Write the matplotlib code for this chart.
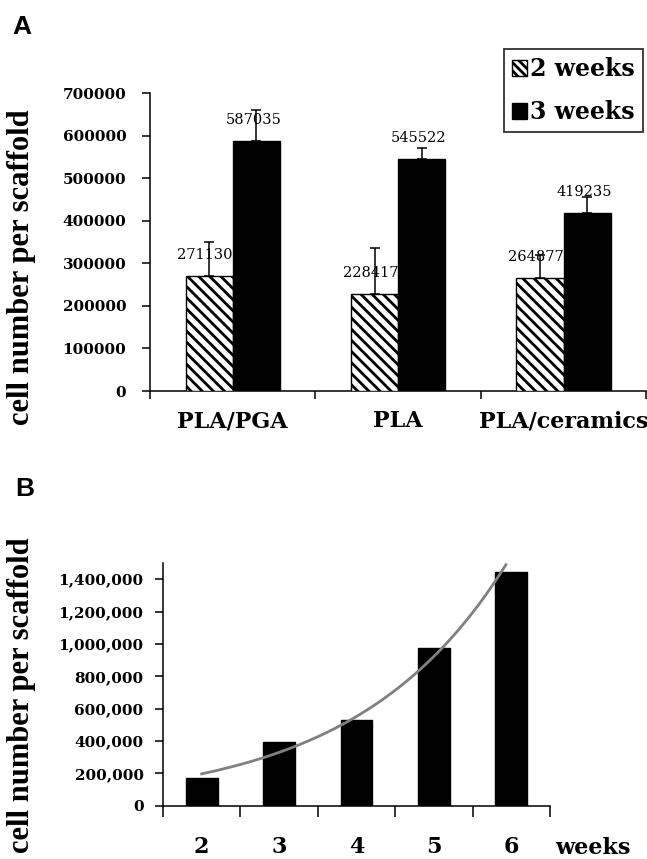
import numpy as np
import matplotlib.pyplot as plt
from matplotlib.patches import Patch

# Panel A data
materials = ["PLA/PGA", "PLA", "PLA/ceramics"]
week2_vals = [271130, 228417, 264877]
week3_vals = [587035, 545522, 419235]
week2_err = [79000, 107000, 55000]
week3_err = [73000, 26500, 37000]
a_yticks = [0, 100000, 200000, 300000, 400000, 500000, 600000, 700000]

# Panel B data
weeks = ["2", "3", "4", "5", "6"]
cells = [173000, 396000, 530000, 973000, 1447000]
b_yticks = [0, 200000, 400000, 600000, 800000, 1000000, 1200000, 1400000]

SERIF_B = dict(family="DejaVu Serif", weight="bold")
plt.rcParams["hatch.linewidth"] = 2.0

fig = plt.figure(figsize=(6.47, 8.59), dpi=100)

# ---------- Panel A ----------
axA = fig.add_axes([0.2318, 0.5448, 0.7672, 0.3469])
x = np.arange(len(materials))
w = 0.285
axA.bar(x - w / 2, week2_vals, w, color="white", edgecolor="black",
        hatch="\\\\\\", linewidth=1.0, zorder=3)
axA.bar(x + w / 2, week3_vals, w, color="black", edgecolor="black",
        linewidth=1.0, zorder=3)
axA.errorbar(x - w / 2, week2_vals, yerr=[np.zeros(3), week2_err], fmt="none",
             ecolor="black", elinewidth=1.1, capsize=3.5, capthick=1.1, zorder=4)
axA.errorbar(x + w / 2, week3_vals, yerr=[np.zeros(3), week3_err], fmt="none",
             ecolor="black", elinewidth=1.1, capsize=3.5, capthick=1.1, zorder=4)
for xi, v in zip(x - w / 2, week2_vals):
    axA.annotate(str(v), (xi, v), xytext=(-3, 15), textcoords="offset points",
                 ha="center", va="center", family="DejaVu Serif", fontsize=10.5,
                 zorder=2)
for xi, v in zip(x + w / 2, week3_vals):
    axA.annotate(str(v), (xi, v), xytext=(-2, 15), textcoords="offset points",
                 ha="center", va="center", family="DejaVu Serif", fontsize=10.5,
                 zorder=2)

axA.set_xlim(-0.5, 2.5)
axA.set_ylim(0, 700000)
axA.set_yticks(a_yticks)
axA.set_yticklabels([str(t) for t in a_yticks], fontsize=11, **SERIF_B)
axA.set_xticks(np.arange(-0.5, 3.0, 1.0))
axA.set_xticklabels([])
axA.set_xticks(x, minor=True)
axA.set_xticklabels(materials, minor=True, fontsize=16, **SERIF_B)
axA.tick_params(axis="x", which="major", direction="out", length=6, width=1.1)
axA.tick_params(axis="x", which="minor", length=0, pad=14)
axA.tick_params(axis="y", direction="out", length=6, width=1.1, pad=11)
for s in ["top", "right"]:
    axA.spines[s].set_visible(False)
for s in ["left", "bottom"]:
    axA.spines[s].set_linewidth(1.1)

leg = fig.legend(handles=[Patch(facecolor="white", edgecolor="black", hatch="\\\\\\\\"),
                          Patch(facecolor="black", edgecolor="black")],
                 labels=["2 weeks", "3 weeks"], loc="upper right",
                 bbox_to_anchor=(0.994, 0.943), prop=dict(size=17, **SERIF_B),
                 frameon=True, fancybox=False, handlelength=0.65, handleheight=0.65,
                 handletextpad=0.12, labelspacing=0.8, borderpad=0.35,
                 borderaxespad=0.0)
leg.get_frame().set_edgecolor("black")
leg.get_frame().set_linewidth(1.3)

# ---------- Panel B ----------
axB = fig.add_axes([0.2519, 0.0620, 0.5983, 0.2826])
xb = np.arange(len(weeks))
axB.bar(xb, cells, 0.41, color="black", edgecolor="black", zorder=3)

# exponential trend line fitted to the bar values
k, c = np.polyfit(xb, np.log(cells), 1)
xt = np.linspace(0, 3.93, 200)
axB.plot(xt, np.exp(c + k * xt), color="#808080", linewidth=2.0, zorder=4,
         clip_on=False)

axB.set_xlim(-0.5, 4.5)
axB.set_ylim(0, 1500000)
axB.set_yticks(b_yticks)
axB.set_yticklabels([f"{t:,}" for t in b_yticks], fontsize=11, **SERIF_B)
axB.set_xticks(np.arange(-0.5, 5.0, 1.0))
axB.set_xticklabels([])
axB.set_xticks(xb, minor=True)
axB.set_xticklabels(weeks, minor=True, fontsize=16, **SERIF_B)
axB.tick_params(axis="x", which="major", direction="out", length=8, width=1.1)
axB.tick_params(axis="x", which="minor", length=0, pad=22)
axB.tick_params(axis="y", direction="out", length=6, width=1.1, pad=8)
for s in ["top", "right"]:
    axB.spines[s].set_visible(False)
for s in ["left", "bottom"]:
    axB.spines[s].set_linewidth(1.1)
axB.text(4.56, -0.175, "weeks", transform=axB.get_xaxis_transform(),
         ha="left", va="center", fontsize=16, **SERIF_B)

# ---------- labels ----------
fig.text(0.0325, 0.689, "cell number per scaffold", rotation=90, ha="center",
         va="center", family="Liberation Serif", weight="bold", fontsize=22)
fig.text(0.0325, 0.191, "cell number per scaffold", rotation=90, ha="center",
         va="center", family="Liberation Serif", weight="bold", fontsize=22)
fig.text(0.0185, 0.9825, "A", ha="left", va="top", family="Liberation Sans",
         weight="bold", fontsize=19)
fig.text(0.023, 0.4447, "B", ha="left", va="top", family="Liberation Sans",
         weight="bold", fontsize=19)

fig.savefig("out.png", dpi=100)
